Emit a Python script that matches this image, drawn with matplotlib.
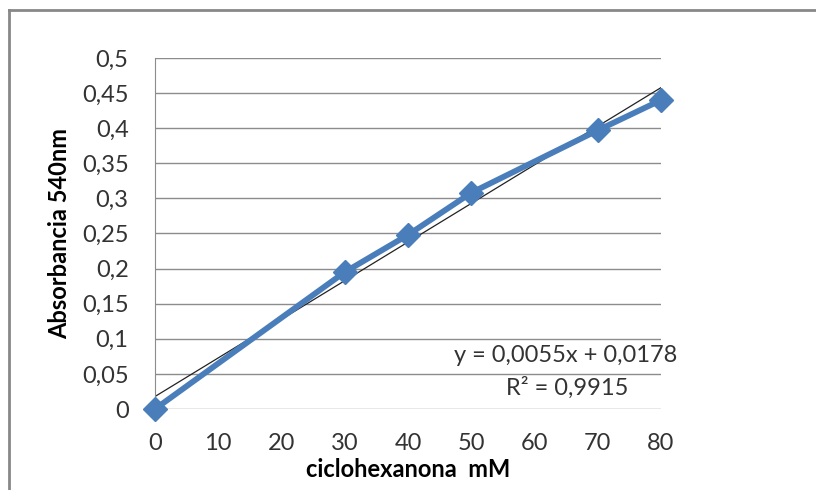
import matplotlib.pyplot as plt
from matplotlib.lines import Line2D

conc = [0, 30, 40, 50, 70, 80]
absorb = [0.0, 0.195, 0.248, 0.308, 0.397, 0.44]
slope = 0.0055
intercept = 0.0178
xticks = [0, 10, 20, 30, 40, 50, 60, 70, 80]
yticks = [0, 0.05, 0.1, 0.15, 0.2, 0.25, 0.3, 0.35, 0.4, 0.45, 0.5]

plt.rcParams['font.family'] = ['Lato', 'DejaVu Sans']

fig = plt.figure(figsize=(8.16, 4.9), dpi=100)
ax = fig.add_axes([155 / 816, 1 - 409 / 490, (661 - 155) / 816, (409 - 58) / 490])

for y in yticks:
    ax.axhline(y, color='#8c8c8c', lw=1.0, zorder=1)

# linea de tendencia
tx = [conc[0], conc[-1]]
ax.plot(tx, [slope * v + intercept for v in tx], color='#222222', lw=0.9, zorder=2)
ax.plot(conc, absorb, color='#4a7ebb', lw=4.2, marker='D', markersize=12,
        markeredgecolor='#4a7ebb', zorder=3, clip_on=False)

ax.set_xlim(0, 80)
ax.set_ylim(0, 0.5)
ax.set_xticks(xticks)
ax.set_yticks(yticks)
ax.set_yticklabels([('%g' % v).replace('.', ',') for v in yticks])
ax.tick_params(length=0, labelsize=17, colors='#333333')
ax.tick_params(axis='y', pad=19)
ax.tick_params(axis='x', pad=17)
for s in ['top', 'right', 'bottom']:
    ax.spines[s].set_visible(False)
ax.spines['left'].set_color('#8c8c8c')

ax.set_xlabel('ciclohexanona  mM', fontsize=17, fontweight='bold', labelpad=3)
ax.set_ylabel('Absorbancia 540nm', fontsize=17, fontweight='bold', labelpad=8)

ax.text(1.032, 0.151, 'y = 0,0055x + 0,0178', transform=ax.transAxes,
        ha='right', va='center', fontsize=17, color='#333333')
ax.text(0.935, 0.06, 'R² = 0,9915', transform=ax.transAxes,
        ha='right', va='center', fontsize=17, color='#333333')

# marco exterior
fig.add_artist(Line2D([9 / 816, 9 / 816], [0, 1 - 10 / 490], color='#888888', lw=2))
fig.add_artist(Line2D([9 / 816, 1], [1 - 10 / 490, 1 - 10 / 490], color='#888888', lw=2))

fig.savefig('out.png', dpi=100)
